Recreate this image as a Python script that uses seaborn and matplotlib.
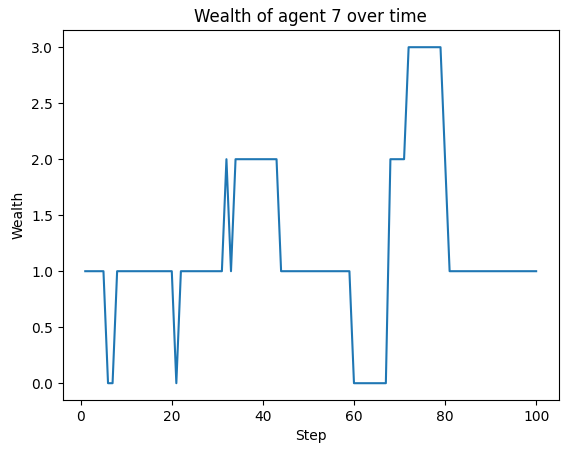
import numpy as np
import pandas as pd
import seaborn as sns
import matplotlib
matplotlib.use('Agg')
import matplotlib.pyplot as plt

# wealth of agent 7
steps = list(range(1, 101))
wealth = ([1] * 5 + [0, 0] + [1] * 12 + [1, 0] + [1] * 10 + [2, 1]
          + [2] * 10 + [1] * 16 + [0] * 8 + [2] * 4 + [3] * 8 + [2]
          + [1] * 20)

df = pd.DataFrame({'Step': steps, 'Wealth': wealth})

fig = plt.figure(figsize=(5.67, 4.53), dpi=100)
ax = fig.add_axes([62.7 / 567, 53 / 453, 496 / 567, 369.6 / 453])
sns.lineplot(data=df, x='Step', y='Wealth', ax=ax)
ax.set_title('Wealth of agent 7 over time')
ax.set_xlabel('Step')
ax.set_ylabel('Wealth')

fig.savefig('out.png', dpi=100)
